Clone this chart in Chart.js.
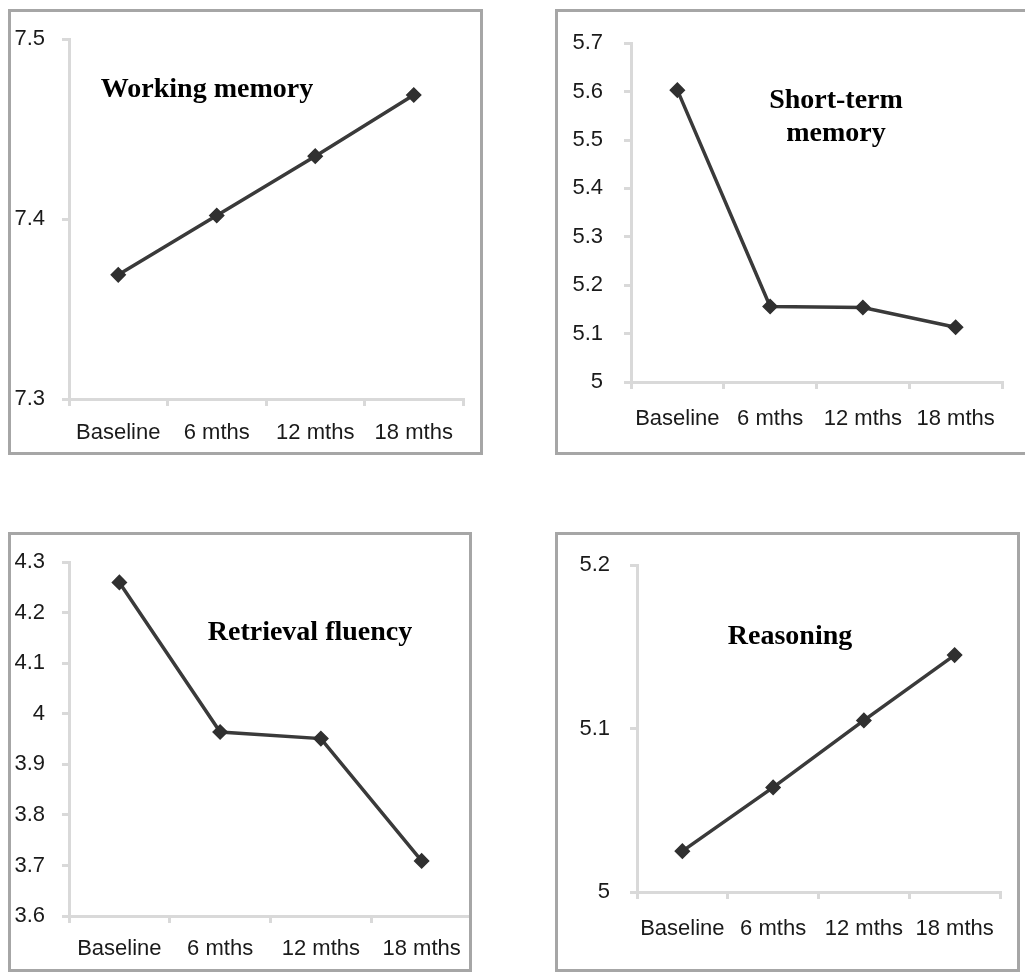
<!DOCTYPE html>
<html>
<head>
<meta charset="utf-8">
<script src="https://cdn.jsdelivr.net/npm/chart.js@4"></script>
<style>
  html, body { margin: 0; padding: 0; background: #fff; }
  body { width: 1025px; height: 972px; overflow: hidden; position: relative; }
  .panel { position: absolute; box-sizing: border-box; border: 3px solid #a6a6a6; overflow: hidden; background: #fff; }
  .panel canvas { position: absolute; left: -3px; top: -3px; }
</style>
</head>
<body>
<div class="panel" id="p1"><canvas id="c1"></canvas></div>
<div class="panel" id="p2"><canvas id="c2"></canvas></div>
<div class="panel" id="p3"><canvas id="c3"></canvas></div>
<div class="panel" id="p4"><canvas id="c4"></canvas></div>
<script>
// data
const categories = ['Baseline', '6 mths', '12 mths', '18 mths'];
const workingMemory = [7.369, 7.402, 7.435, 7.469];
const shortTermMemory = [5.603, 5.156, 5.154, 5.113];
const retrievalFluency = [4.260, 3.964, 3.951, 3.709];
const reasoning = [5.025, 5.064, 5.105, 5.145];

const wmRange = [7.3, 7.5];
const stmRange = [5.0, 5.7];
const rfRange = [3.6, 4.3];
const rsRange = [5.0, 5.2];

// panel layout: outer box and plot area in page pixels
const panels = [
    { id: 1, values: workingMemory, range: wmRange, title: ['Working memory'],
      box: [8, 9, 483, 455], area: [69, 37, 463, 399], yPad: 17, xPad: 14, title_dx: 138, title_dy: 51 },
    { id: 2, values: shortTermMemory, range: stmRange, title: ['Short-term', 'memory'],
      box: [555, 9, 1040, 455], area: [631, 42, 1002, 382], yPad: 21, xPad: 17, title_dx: 205, title_dy: 58 },
    { id: 3, values: retrievalFluency, range: rfRange, title: ['Retrieval fluency'],
      box: [8, 532, 472, 972], area: [69, 551, 472, 916], yPad: 17, xPad: 13, title_dx: 241, title_dy: 71 },
    { id: 4, values: reasoning, range: rsRange, title: ['Reasoning'],
      box: [555, 532, 1020, 972], area: [637, 550, 1000, 892], yPad: 20, xPad: 17, title_dx: 153, title_dy: 72 },
];

const AXIS = '#d9d9d9';
const TICK_TEXT = '#1a1a1a';

const panelTitle = {
    id: 'panelTitle',
    afterDraw(chart, args, opts) {
        const { ctx, chartArea } = chart;
        ctx.save();
        ctx.font = 'bold 28px "Liberation Serif", serif';
        ctx.fillStyle = '#000';
        ctx.textAlign = 'center';
        ctx.textBaseline = 'middle';
        opts.lines.forEach((line, i) => {
            ctx.fillText(line, chartArea.left + opts.dx, chartArea.top + opts.dy + i * 33);
        });
        ctx.restore();
    },
};

panels.forEach((p) => {
    const [bl, bt, br, bb] = p.box;
    const [al, at, ar, ab] = p.area;
    const w = br - bl;
    const h = bb - bt;

    const el = document.getElementById(`p${p.id}`);
    el.style.left = bl + 'px';
    el.style.top = bt + 'px';
    el.style.width = w + 'px';
    el.style.height = h + 'px';

    const canvas = document.getElementById(`c${p.id}`);
    const cw = w + 10;
    canvas.width = cw;
    canvas.height = h;
    canvas.style.width = cw + 'px';
    canvas.style.height = h + 'px';

    new Chart(canvas.getContext('2d'), {
        type: 'line',
        data: {
            labels: categories,
            datasets: [{
                data: p.values,
                borderColor: '#3a3a3a',
                borderWidth: 3.5,
                tension: 0,
                pointStyle: 'rectRot',
                pointRadius: 7,
                pointBackgroundColor: '#303030',
                pointBorderColor: '#303030',
                pointBorderWidth: 1.5,
            }],
        },
        options: {
            responsive: false,
            animation: false,
            devicePixelRatio: 1,
            events: [],
            layout: {
                autoPadding: false,
                padding: { left: 0, top: at - bt, right: cw - (ar - bl), bottom: 0 },
            },
            plugins: {
                legend: { display: false },
                title: { display: false },
                tooltip: { enabled: false },
                panelTitle: { lines: p.title, dx: p.title_dx, dy: p.title_dy },
            },
            scales: {
                x: {
                    offset: true,
                    grid: {
                        offset: true,
                        drawOnChartArea: false,
                        drawTicks: true,
                        tickLength: 7,
                        color: AXIS,
                        lineWidth: 3,
                    },
                    border: { color: AXIS, width: 3 },
                    ticks: {
                        autoSkip: false,
                        maxRotation: 0,
                        minRotation: 0,
                        color: TICK_TEXT,
                        padding: p.xPad,
                        font: { family: '"Liberation Sans", Arial, sans-serif', size: 22 },
                    },
                    afterFit(scale) {
                        scale.height = h - (ab - bt);
                    },
                },
                y: {
                    min: p.range[0],
                    max: p.range[1],
                    grid: {
                        drawOnChartArea: false,
                        drawTicks: true,
                        tickLength: 7,
                        color: AXIS,
                        lineWidth: 3,
                    },
                    border: { color: AXIS, width: 3 },
                    ticks: {
                        stepSize: 0.1,
                        color: TICK_TEXT,
                        padding: p.yPad,
                        font: { family: '"Liberation Sans", Arial, sans-serif', size: 22 },
                        callback: (v) => String(Number(Number(v).toFixed(1))),
                    },
                    afterFit(scale) {
                        scale.width = al - bl;
                    },
                },
            },
        },
        plugins: [panelTitle],
    });
});
</script>
</body>
</html>
